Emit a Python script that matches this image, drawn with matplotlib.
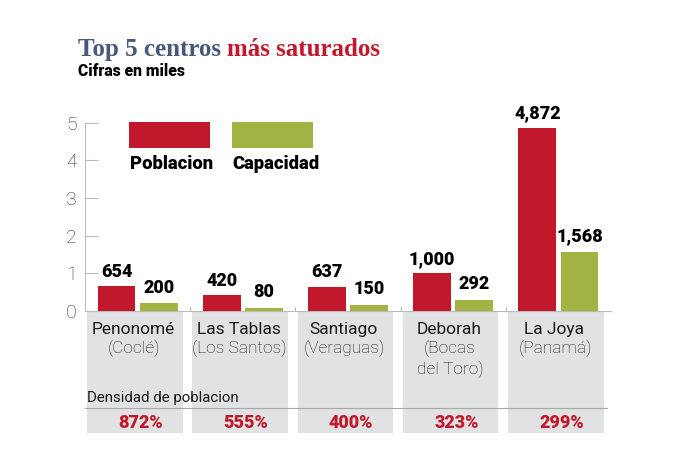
import matplotlib
matplotlib.use("Agg")
import matplotlib.pyplot as plt
from matplotlib.patches import Rectangle
from matplotlib.transforms import blended_transform_factory
import numpy as np

plt.rcParams["font.family"] = ["Roboto", "DejaVu Sans"]

CENTERS = ["Penonomé", "Las Tablas", "Santiago", "Deborah", "La Joya"]
PROVINCES = ["(Coclé)", "(Los Santos)", "(Veraguas)", "(Bocas\ndel Toro)", "(Panamá)"]
POBLACION = [654, 420, 637, 1000, 4872]
CAPACIDAD = [200, 80, 150, 292, 1568]
DENSIDAD = ["872%", "555%", "400%", "323%", "299%"]
Y_TICKS = [0, 1, 2, 3, 4, 5]

RED = "#c1192b"
GREEN = "#a3b444"
PANEL = "#e1e2e4"
BLUE = "#46597a"

fig = plt.figure(figsize=(6.99, 4.66), dpi=100)
ax = fig.add_axes([85 / 699, 155 / 466, 526 / 699, 188.3 / 466])

x = np.arange(len(CENTERS))
w = 0.36
pob = np.array(POBLACION) / 1000
cap = np.array(CAPACIDAD) / 1000
ax.bar(x - 0.2, pob, w, color=RED, zorder=3)
ax.bar(x + 0.2, cap, w, color=GREEN, zorder=3)

for xi, v, raw in zip(x - 0.2, pob, POBLACION):
    ax.annotate(f"{raw:,}", (xi, v), xytext=(0, 4), textcoords="offset points",
                ha="center", va="bottom", fontsize=13, fontweight="black")
for xi, v, raw in zip(x + 0.2, cap, CAPACIDAD):
    ax.annotate(f"{raw:,}", (xi, v), xytext=(0, 5), textcoords="offset points",
                ha="center", va="bottom", fontsize=13, fontweight="black")

ax.set_xlim(-0.5, 4.5)
ax.set_ylim(0, 5)
ax.set_yticks(Y_TICKS)
ax.set_yticklabels([str(t) for t in Y_TICKS], fontsize=14, fontweight="light",
                   color="#333333")
ax.set_xticks(x[:-1] + 0.5)
ax.set_xticklabels([])
ax.tick_params(axis="y", direction="in", length=9, width=0.8, color="#bbbbbb", pad=6)
ax.tick_params(axis="x", direction="in", length=3, width=0.8, color="#bbbbbb")
for s in ["top", "right"]:
    ax.spines[s].set_visible(False)
for s in ["left", "bottom"]:
    ax.spines[s].set_color("#bbbbbb")
    ax.spines[s].set_linewidth(0.8)

# gray panels under each category
tr = blended_transform_factory(ax.transData, ax.transAxes)
for i in x:
    ax.add_patch(Rectangle((i - 0.48, -0.648), 0.91, 0.648, transform=tr,
                           color=PANEL, clip_on=False, zorder=0, lw=0))
ax.plot([-0.5, 4.46], [-0.515, -0.515], transform=tr, color="#a8a8a8",
        lw=0.8, clip_on=False, zorder=1)

for i, (name, prov, dens) in enumerate(zip(CENTERS, PROVINCES, DENSIDAD)):
    ax.text(i - 0.04, -0.1, name, transform=tr, ha="center", va="center",
            fontsize=12.5, color="#1a1a1a")
    ax.text(i - 0.03, -0.155, prov, transform=tr, ha="center", va="top",
            fontsize=12.5, fontweight="light", color="#1a1a1a", linespacing=1.3)
    ax.text(i + 0.03, -0.595, dens, transform=tr, ha="center", va="center",
            fontsize=13, fontweight="black", color=RED)
ax.text(-0.48, -0.462, "Densidad de poblacion", transform=tr, ha="left",
        va="center", fontsize=10.8, color="#1a1a1a")

# legend
ax.add_patch(Rectangle((-0.082, 4.33), 0.77, 0.69, color=RED, clip_on=False, lw=0))
ax.add_patch(Rectangle((0.897, 4.33), 0.77, 0.69, color=GREEN, clip_on=False, lw=0))
ax.text(-0.075, 3.9, "Poblacion", ha="left", va="center", fontsize=13.3,
        fontweight="black")
ax.text(0.9, 3.9, "Capacidad", ha="left", va="center", fontsize=13.3,
        fontweight="black")

# title in two colours
t1 = fig.text(78 / 699, 1 - 56 / 466, "Top 5 centros ", family="Liberation Serif",
              fontweight="bold", fontsize=18, color=BLUE, va="baseline")
fig.canvas.draw()
bb = t1.get_window_extent(fig.canvas.get_renderer())
fig.text(bb.x1 / fig.bbox.width, 1 - 56 / 466, "más saturados",
         family="Liberation Serif", fontweight="bold", fontsize=18, color=RED,
         va="baseline")
fig.text(78 / 699, 1 - 76 / 466, "Cifras en miles", fontsize=11.3,
         fontweight="black", va="baseline")

fig.savefig("out.png", dpi=100)
